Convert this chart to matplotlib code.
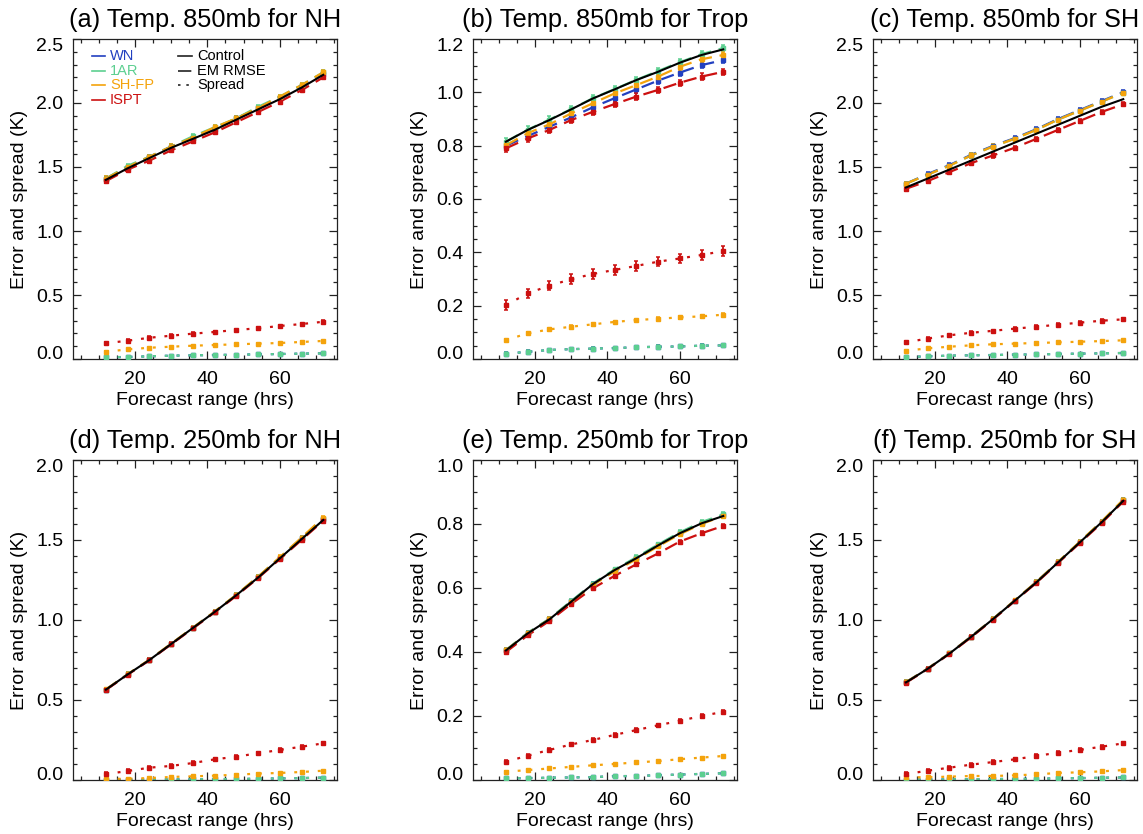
import matplotlib
matplotlib.use("Agg")
import matplotlib.pyplot as plt
import matplotlib.transforms as mtransforms
from matplotlib.ticker import MultipleLocator, FixedLocator, FormatStrFormatter
from matplotlib.lines import Line2D

plt.rcParams["font.family"] = ["Liberation Sans", "DejaVu Sans"]

# ---------------------------------------------------------------- data
hours = [12, 18, 24, 30, 36, 42, 48, 54, 60, 66, 72]
experiments = ["WN", "1AR", "SH-FP", "ISPT"]
titles = ["(a) Temp. 850mb for NH", "(b) Temp. 850mb for Trop", "(c) Temp. 850mb for SH",
          "(d) Temp. 250mb for NH", "(e) Temp. 250mb for Trop", "(f) Temp. 250mb for SH"]
y_limits = [2.5, 1.2, 2.5, 2.0, 1.0, 2.0]
y_major = [0.5, 0.2, 0.5, 0.5, 0.2, 0.5]
y_minor = [0.1, 0.05, 0.1, 0.1, 0.05, 0.1]

# (a) 850 hPa NH
control_a = [1.40, 1.49, 1.57, 1.65, 1.72, 1.79, 1.87, 1.95, 2.03, 2.12, 2.22]
rmse_a = {
    "WN":    [1.41, 1.50, 1.58, 1.66, 1.73, 1.80, 1.88, 1.96, 2.04, 2.13, 2.23],
    "1AR":   [1.41, 1.51, 1.58, 1.66, 1.74, 1.81, 1.88, 1.97, 2.05, 2.14, 2.24],
    "SH-FP": [1.41, 1.50, 1.58, 1.66, 1.73, 1.81, 1.88, 1.96, 2.05, 2.14, 2.24],
    "ISPT":  [1.39, 1.48, 1.55, 1.63, 1.70, 1.77, 1.85, 1.93, 2.01, 2.10, 2.20],
}
spread_a = {
    "WN":    [0.013, 0.016, 0.021, 0.026, 0.029, 0.031, 0.034, 0.036, 0.039, 0.042, 0.044],
    "1AR":   [0.013, 0.016, 0.021, 0.026, 0.029, 0.031, 0.034, 0.036, 0.039, 0.042, 0.044],
    "SH-FP": [0.057, 0.075, 0.088, 0.096, 0.104, 0.109, 0.115, 0.120, 0.125, 0.133, 0.141],
    "ISPT":  [0.123, 0.143, 0.166, 0.182, 0.198, 0.211, 0.227, 0.240, 0.258, 0.273, 0.291],
}

# (b) 850 hPa tropics
control_b = [0.815, 0.859, 0.896, 0.936, 0.977, 1.011, 1.046, 1.077, 1.111, 1.140, 1.161]
rmse_b = {
    "WN":    [0.800, 0.836, 0.871, 0.906, 0.944, 0.978, 1.011, 1.044, 1.074, 1.102, 1.121],
    "1AR":   [0.815, 0.860, 0.898, 0.937, 0.978, 1.012, 1.047, 1.080, 1.113, 1.143, 1.166],
    "SH-FP": [0.802, 0.847, 0.880, 0.921, 0.959, 0.996, 1.027, 1.059, 1.096, 1.124, 1.140],
    "ISPT":  [0.790, 0.827, 0.859, 0.896, 0.927, 0.956, 0.984, 1.009, 1.036, 1.059, 1.077],
}
spread_b = {
    "WN":    [0.020, 0.027, 0.034, 0.037, 0.039, 0.041, 0.044, 0.046, 0.047, 0.050, 0.051],
    "1AR":   [0.020, 0.027, 0.034, 0.037, 0.039, 0.041, 0.044, 0.046, 0.047, 0.050, 0.051],
    "SH-FP": [0.071, 0.096, 0.111, 0.121, 0.130, 0.139, 0.146, 0.151, 0.156, 0.160, 0.166],
    "ISPT":  [0.202, 0.246, 0.275, 0.299, 0.319, 0.334, 0.349, 0.365, 0.377, 0.390, 0.405],
}

# (c) 850 hPa SH
control_c = [1.34, 1.41, 1.48, 1.55, 1.62, 1.69, 1.76, 1.83, 1.90, 1.97, 2.03]
rmse_c = {
    "WN":    [1.37, 1.445, 1.515, 1.595, 1.665, 1.725, 1.795, 1.875, 1.945, 2.015, 2.085],
    "1AR":   [1.37, 1.44, 1.51, 1.59, 1.66, 1.72, 1.79, 1.87, 1.94, 2.01, 2.08],
    "SH-FP": [1.37, 1.44, 1.51, 1.59, 1.66, 1.72, 1.79, 1.87, 1.94, 2.01, 2.08],
    "ISPT":  [1.33, 1.39, 1.46, 1.53, 1.59, 1.65, 1.72, 1.79, 1.86, 1.93, 1.99],
}
spread_c = {
    "WN":    [0.015, 0.021, 0.026, 0.029, 0.031, 0.034, 0.036, 0.039, 0.042, 0.044, 0.047],
    "1AR":   [0.015, 0.021, 0.026, 0.029, 0.031, 0.034, 0.036, 0.039, 0.042, 0.044, 0.047],
    "SH-FP": [0.065, 0.083, 0.096, 0.107, 0.115, 0.120, 0.125, 0.130, 0.135, 0.140, 0.146],
    "ISPT":  [0.130, 0.160, 0.185, 0.205, 0.220, 0.237, 0.252, 0.268, 0.284, 0.299, 0.310],
}

# (d) 250 hPa NH
control_d = [0.565, 0.660, 0.750, 0.850, 0.950, 1.050, 1.155, 1.265, 1.385, 1.505, 1.625]
rmse_d = {
    "WN":    [0.565, 0.660, 0.750, 0.850, 0.950, 1.050, 1.155, 1.268, 1.388, 1.510, 1.630],
    "1AR":   [0.565, 0.661, 0.751, 0.851, 0.951, 1.052, 1.157, 1.270, 1.390, 1.512, 1.634],
    "SH-FP": [0.566, 0.661, 0.752, 0.852, 0.952, 1.053, 1.158, 1.271, 1.392, 1.515, 1.640],
    "ISPT":  [0.563, 0.658, 0.748, 0.848, 0.947, 1.047, 1.151, 1.262, 1.380, 1.500, 1.620],
}
spread_d = {
    "WN":    [0.002, 0.002, 0.003, 0.004, 0.004, 0.006, 0.006, 0.008, 0.010, 0.012, 0.015],
    "1AR":   [0.002, 0.002, 0.003, 0.004, 0.004, 0.006, 0.006, 0.008, 0.010, 0.012, 0.015],
    "SH-FP": [0.006, 0.008, 0.012, 0.019, 0.023, 0.027, 0.033, 0.040, 0.044, 0.050, 0.058],
    "ISPT":  [0.037, 0.056, 0.077, 0.088, 0.106, 0.129, 0.146, 0.167, 0.188, 0.208, 0.229],
}

# (e) 250 hPa tropics
control_e = [0.405, 0.458, 0.502, 0.557, 0.612, 0.656, 0.693, 0.733, 0.771, 0.802, 0.825]
rmse_e = {
    "WN":    [0.405, 0.459, 0.503, 0.558, 0.612, 0.656, 0.694, 0.734, 0.772, 0.804, 0.827],
    "1AR":   [0.406, 0.460, 0.504, 0.559, 0.614, 0.658, 0.696, 0.736, 0.774, 0.806, 0.830],
    "SH-FP": [0.405, 0.458, 0.502, 0.556, 0.609, 0.652, 0.690, 0.730, 0.768, 0.800, 0.825],
    "ISPT":  [0.400, 0.452, 0.497, 0.550, 0.599, 0.638, 0.674, 0.708, 0.745, 0.771, 0.794],
}
spread_e = {
    "WN":    [0.005, 0.006, 0.007, 0.008, 0.009, 0.012, 0.0125, 0.015, 0.017, 0.019, 0.021],
    "1AR":   [0.005, 0.006, 0.007, 0.008, 0.009, 0.012, 0.0125, 0.015, 0.017, 0.019, 0.021],
    "SH-FP": [0.026, 0.031, 0.036, 0.041, 0.046, 0.050, 0.055, 0.059, 0.065, 0.070, 0.075],
    "ISPT":  [0.057, 0.076, 0.094, 0.111, 0.125, 0.141, 0.156, 0.171, 0.185, 0.200, 0.213],
}

# (f) 250 hPa SH
control_f = [0.610, 0.695, 0.790, 0.895, 1.005, 1.120, 1.235, 1.360, 1.485, 1.610, 1.745]
rmse_f = {
    "WN":    [0.611, 0.696, 0.791, 0.896, 1.006, 1.121, 1.237, 1.362, 1.487, 1.613, 1.748],
    "1AR":   [0.611, 0.696, 0.791, 0.896, 1.006, 1.121, 1.237, 1.362, 1.488, 1.614, 1.750],
    "SH-FP": [0.611, 0.696, 0.791, 0.896, 1.006, 1.122, 1.238, 1.363, 1.489, 1.615, 1.752],
    "ISPT":  [0.608, 0.693, 0.788, 0.892, 1.002, 1.117, 1.232, 1.356, 1.481, 1.605, 1.740],
}
spread_f = {
    "WN":    [0.002, 0.003, 0.004, 0.005, 0.006, 0.007, 0.008, 0.010, 0.012, 0.014, 0.016],
    "1AR":   [0.002, 0.003, 0.004, 0.005, 0.006, 0.007, 0.008, 0.010, 0.012, 0.014, 0.016],
    "SH-FP": [0.017, 0.017, 0.021, 0.025, 0.025, 0.029, 0.035, 0.044, 0.048, 0.054, 0.062],
    "ISPT":  [0.037, 0.058, 0.077, 0.096, 0.112, 0.129, 0.150, 0.171, 0.188, 0.208, 0.229],
}

# half-widths of the sampling-uncertainty bars, one value per panel
rmse_halfwidth = [0.016, 0.012, 0.016, 0.012, 0.006, 0.012]
ispt_spread_halfwidth = [0.010, 0.018, 0.010, 0.010, 0.005, 0.010]
other_spread_halfwidth = [0.004, 0.005, 0.004, 0.004, 0.002, 0.004]

controls = [control_a, control_b, control_c, control_d, control_e, control_f]
rmses = [rmse_a, rmse_b, rmse_c, rmse_d, rmse_e, rmse_f]
spreads = [spread_a, spread_b, spread_c, spread_d, spread_e, spread_f]

colors = {"WN": "#2240c0", "1AR": "#5ccf90", "SH-FP": "#f4a30c", "ISPT": "#cc1010"}

# ---------------------------------------------------------------- figure
W, H = 1143, 834
fig = plt.figure(figsize=(W / 100, H / 100), dpi=100)

col_left = [73, 473, 873]
row_top = [39, 460]
ax_w, ax_h = 264, 320

RMSE_DASH = (6, 3.5)
SPREAD_DASH = (1.3, 4)

# end labels of the y axis are nudged inside the frame (points)
shift_up = mtransforms.ScaledTranslation(0, 4.5 / 72, fig.dpi_scale_trans)
shift_down = mtransforms.ScaledTranslation(0, -4.0 / 72, fig.dpi_scale_trans)


def draw_panel(ax, k):
    ctrl = controls[k]
    for exp in experiments:
        c = colors[exp]
        sp = spreads[k][exp]
        hw = ispt_spread_halfwidth[k] if exp == "ISPT" else other_spread_halfwidth[k]
        ax.plot(hours, sp, color=c, lw=1.6, dashes=SPREAD_DASH, zorder=2)
        ax.errorbar(hours, sp, yerr=hw, fmt="s", ms=2.2, color=c, ecolor=c,
                    elinewidth=1.3, capsize=1.5, capthick=1.1, zorder=3)
        rm = rmses[k][exp]
        ax.plot(hours, rm, color=c, lw=1.6, dashes=RMSE_DASH, zorder=2)
        ax.errorbar(hours, rm, yerr=rmse_halfwidth[k], fmt="s", ms=2.2, color=c,
                    ecolor=c, elinewidth=1.3, capsize=1.5, capthick=1.1, zorder=3)
    ax.plot(hours, ctrl, color="black", lw=1.5, zorder=4)

    ax.set_xlim(2.9, 75.8)
    ax.set_ylim(0, y_limits[k])
    ax.xaxis.set_major_locator(FixedLocator([20, 40, 60]))
    ax.xaxis.set_minor_locator(MultipleLocator(5))
    ax.yaxis.set_major_locator(MultipleLocator(y_major[k]))
    ax.yaxis.set_minor_locator(MultipleLocator(y_minor[k]))
    ax.yaxis.set_major_formatter(FormatStrFormatter("%.1f"))
    ax.tick_params(which="both", direction="in", top=True, right=True,
                   width=0.9, color="#222222")
    ax.tick_params(which="major", length=5.5, labelsize=14)
    ax.tick_params(axis="x", which="major", pad=8.5)
    ax.tick_params(axis="y", which="major", pad=7)
    ax.tick_params(which="minor", length=3)
    for s in ax.spines.values():
        s.set_linewidth(0.9)
        s.set_color("#222222")

    ax.set_title(titles[k], fontsize=18.3, pad=8.5)
    ax.set_xlabel("Forecast range (hrs)", fontsize=14, labelpad=3)
    ax.set_ylabel("Error and spread (K)", fontsize=14)
    ax.yaxis.set_label_coords(-0.17, 0.5)

    fig.canvas.draw()
    ticks = [t for t in ax.yaxis.get_major_ticks()
             if -1e-9 <= t.get_loc() <= y_limits[k] + 1e-9]
    if ticks:
        lo, hi = ticks[0].label1, ticks[-1].label1
        lo.set_transform(lo.get_transform() + shift_up)
        hi.set_transform(hi.get_transform() + shift_down)


axes = []
for k in range(6):
    r, c = divmod(k, 3)
    left = col_left[c] / W
    bottom = 1 - (row_top[r] + ax_h) / H
    ax = fig.add_axes([left, bottom, ax_w / W, ax_h / H])
    axes.append(ax)
    draw_panel(ax, k)

# legend inside panel (a)
ax = axes[0]
row_y = [0.947, 0.900, 0.855, 0.810]
for exp, yy in zip(experiments, row_y):
    ax.add_line(Line2D([0.072, 0.121], [yy, yy], transform=ax.transAxes,
                       color=colors[exp], lw=1.2))
    ax.text(0.14, yy, exp, transform=ax.transAxes, color=colors[exp],
            fontsize=10.5, va="center", ha="left")

style_rows = [("Control", None), ("EM RMSE", (8, 2)), ("Spread", (1.5, 3.5))]
for (name, dash), yy in zip(style_rows, row_y):
    kw = dict(transform=ax.transAxes, color="#222222", lw=1.2)
    if dash is not None:
        kw["dashes"] = dash
    ax.add_line(Line2D([0.398, 0.451], [yy, yy], **kw))
    ax.text(0.47, yy, name, transform=ax.transAxes, color="black",
            fontsize=10.5, va="center", ha="left")

fig.savefig("out.png", dpi=100)
